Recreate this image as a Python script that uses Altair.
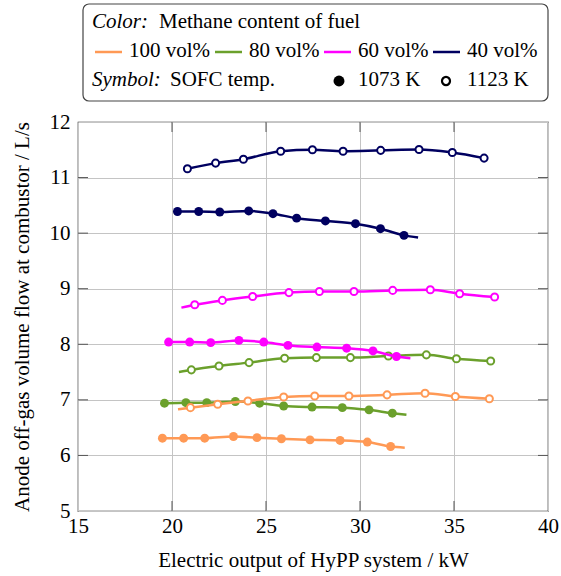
import altair as alt
import pandas as pd

FONT = "'Liberation Serif', 'Times New Roman', Times, serif"
FS = 21

fuels = ["100 vol%", "80 vol%", "60 vol%", "40 vol%"]
fuel_colors = ["#FF9955", "#6BA02C", "#FF00FF", "#000060"]
temps = ["1073 K", "1123 K"]

x_ticks = [15, 20, 25, 30, 35, 40]
y_ticks = [5, 6, 7, 8, 9, 10, 11, 12]

# 100 vol%
x100_1073 = [19.49, 20.62, 21.74, 23.27, 24.52, 25.82, 27.34, 28.94, 30.39, 31.63]
y100_1073 = [6.31, 6.31, 6.31, 6.34, 6.32, 6.30, 6.28, 6.27, 6.24, 6.16]
end100_1073 = [(32.38, 6.14)]
x100_1123 = [20.98, 22.43, 24.04, 25.94, 27.59, 29.41, 31.44, 33.46, 35.07, 36.88]
y100_1123 = [6.86, 6.92, 6.98, 7.05, 7.07, 7.07, 7.09, 7.12, 7.06, 7.02]
start100_1123 = [(20.32, 6.83)]

# 80 vol%
x80_1073 = [19.60, 20.74, 21.85, 23.37, 24.66, 25.94, 27.45, 29.06, 30.48, 31.72]
y80_1073 = [6.94, 6.95, 6.95, 6.97, 6.94, 6.89, 6.87, 6.86, 6.82, 6.76]
end80_1073 = [(32.47, 6.73)]
x80_1123 = [21.03, 22.50, 24.10, 25.99, 27.68, 29.49, 31.51, 33.53, 35.13, 36.95]
y80_1123 = [7.54, 7.61, 7.67, 7.75, 7.76, 7.76, 7.79, 7.81, 7.74, 7.70]
start80_1123 = [(20.37, 7.50)]

# 60 vol%
x60_1073 = [19.82, 20.94, 22.06, 23.56, 24.88, 26.17, 27.71, 29.29, 30.69, 31.94]
y60_1073 = [8.04, 8.04, 8.03, 8.07, 8.04, 7.98, 7.95, 7.93, 7.88, 7.78]
end60_1073 = [(32.68, 7.75)]
x60_1123 = [21.21, 22.68, 24.29, 26.22, 27.84, 29.68, 31.74, 33.74, 35.30, 37.16]
y60_1123 = [8.71, 8.79, 8.86, 8.93, 8.95, 8.95, 8.97, 8.98, 8.91, 8.85]
start60_1123 = [(20.50, 8.66)]

# 40 vol%
x40_1073 = [20.29, 21.42, 22.54, 24.08, 25.37, 26.63, 28.16, 29.76, 31.09, 32.34]
y40_1073 = [10.39, 10.39, 10.38, 10.40, 10.35, 10.27, 10.22, 10.17, 10.08, 9.96]
end40_1073 = [(33.09, 9.92)]
x40_1123 = [20.82, 22.32, 23.80, 25.78, 27.47, 29.10, 31.10, 33.14, 34.91, 36.60]
y40_1123 = [11.16, 11.26, 11.33, 11.475, 11.50, 11.475, 11.49, 11.505, 11.45, 11.35]

series = [
    ("80 vol%", "1073 K", x80_1073, y80_1073, [], end80_1073),
    ("80 vol%", "1123 K", x80_1123, y80_1123, start80_1123, []),
    ("100 vol%", "1073 K", x100_1073, y100_1073, [], end100_1073),
    ("100 vol%", "1123 K", x100_1123, y100_1123, start100_1123, []),
    ("60 vol%", "1073 K", x60_1073, y60_1073, [], end60_1073),
    ("60 vol%", "1123 K", x60_1123, y60_1123, start60_1123, []),
    ("40 vol%", "1073 K", x40_1073, y40_1073, [], end40_1073),
    ("40 vol%", "1123 K", x40_1123, y40_1123, [], []),
]

W, H = 470, 389

xscale = alt.Scale(domain=[15, 40], nice=False, zero=False)
yscale = alt.Scale(domain=[5, 12], nice=False, zero=False)
cscale = alt.Scale(domain=fuels, range=fuel_colors)

xenc = alt.X("x:Q", scale=xscale,
             axis=alt.Axis(values=x_ticks, title="Electric output of HyPP system / kW",
                           labelFlush=False, grid=True, ticks=False, domain=False, format="d",
                           labelPadding=4, titlePadding=13))
yenc = alt.Y("y:Q", scale=yscale,
             axis=alt.Axis(values=y_ticks, title="Anode off-gas volume flow at combustor / L/s",
                           grid=True, ticks=False, domain=False, format="d",
                           labelPadding=8, titlePadding=17))
cenc = alt.Color("fuel:N", scale=cscale, legend=None)

layers = []
for fuel, temp, xs, ys, pre, post in series:
    pts = pd.DataFrame({"x": xs, "y": ys, "fuel": fuel, "temp": temp})
    lx = [p[0] for p in pre] + list(xs) + [p[0] for p in post]
    ly = [p[1] for p in pre] + list(ys) + [p[1] for p in post]
    ln = pd.DataFrame({"x": lx, "y": ly, "fuel": fuel})
    layers.append(alt.Chart(ln).mark_line(strokeWidth=2.5, interpolate="monotone")
                  .encode(x=xenc, y=yenc, color=cenc))
    if temp == "1073 K":
        layers.append(alt.Chart(pts).mark_point(filled=True, size=80, opacity=1, shape="circle")
                      .encode(x=xenc, y=yenc, color=cenc))
    else:
        layers.append(alt.Chart(pts).mark_point(filled=False, fill="white", size=50,
                                                strokeWidth=2, opacity=1, shape="circle")
                      .encode(x=xenc, y=yenc, stroke=alt.Stroke("fuel:N", scale=cscale, legend=None)))

# inward ticks on all four sides
xt = pd.DataFrame({"x": x_ticks[1:-1]})
yt = pd.DataFrame({"y": y_ticks[1:-1]})
TK = 10
tick_color = "#555555"
layers.append(alt.Chart(xt).mark_rule(color=tick_color, strokeWidth=1)
              .encode(x=alt.X("x:Q", scale=xscale), y=alt.value(H), y2=alt.value(H - TK)))
layers.append(alt.Chart(xt).mark_rule(color=tick_color, strokeWidth=1)
              .encode(x=alt.X("x:Q", scale=xscale), y=alt.value(0), y2=alt.value(TK)))
layers.append(alt.Chart(yt).mark_rule(color=tick_color, strokeWidth=1)
              .encode(y=alt.Y("y:Q", scale=yscale), x=alt.value(0), x2=alt.value(TK)))
layers.append(alt.Chart(yt).mark_rule(color=tick_color, strokeWidth=1)
              .encode(y=alt.Y("y:Q", scale=yscale), x=alt.value(W - TK), x2=alt.value(W)))

# custom legend box
one = pd.DataFrame({"a": [0]})
layers.append(alt.Chart(one).mark_rect(fill="white", stroke="#444444", strokeWidth=1.2,
                                       cornerRadius=6)
              .encode(x=alt.value(5), x2=alt.value(470), y=alt.value(-118), y2=alt.value(-21)))


def txt(s, x, y, italic=False):
    return (alt.Chart(pd.DataFrame({"t": [s]}))
            .mark_text(align="left", baseline="alphabetic", font=FONT, fontSize=FS,
                       fontStyle="italic" if italic else "normal", color="black")
            .encode(x=alt.value(x), y=alt.value(y), text="t:N"))


layers.append(txt("Color:", 14, -94, True))
layers.append(txt("Methane content of fuel", 81, -94))
layers.append(txt("Symbol:", 14, -36, True))
layers.append(txt("SOFC temp.", 92, -36))

sample_x = [17, 137, 246, 355]
for fuel, col, sx in zip(fuels, fuel_colors, sample_x):
    layers.append(alt.Chart(one).mark_rule(color=col, strokeWidth=2.5)
                  .encode(x=alt.value(sx), x2=alt.value(sx + 27), y=alt.value(-70)))
    layers.append(txt(fuel, sx + 34, -65))

layers.append(alt.Chart(one).mark_point(filled=True, size=120, color="black", opacity=1)
              .encode(x=alt.value(261), y=alt.value(-41)))
layers.append(txt(temps[0], 280, -36))
layers.append(alt.Chart(one).mark_point(filled=False, fill="white", size=65, strokeWidth=2.2,
                                        color="black", opacity=1)
              .encode(x=alt.value(368), y=alt.value(-41)))
layers.append(txt(temps[1], 389, -36))

chart = (alt.layer(*layers)
         .properties(width=W, height=H,
                     padding={"left": 78, "top": 122, "right": 13, "bottom": 65},
                     autosize=alt.AutoSizeParams(type="none"))
         .configure_view(stroke="#222222", strokeWidth=1.2)
         .configure_axis(labelFont=FONT, titleFont=FONT, labelFontSize=FS, titleFontSize=FS,
                         titleFontWeight="normal", labelColor="black", titleColor="black",
                         gridColor="#C4C4C4", gridWidth=1))

chart.save("out.html", embed_options={"renderer": "svg", "actions": False})
